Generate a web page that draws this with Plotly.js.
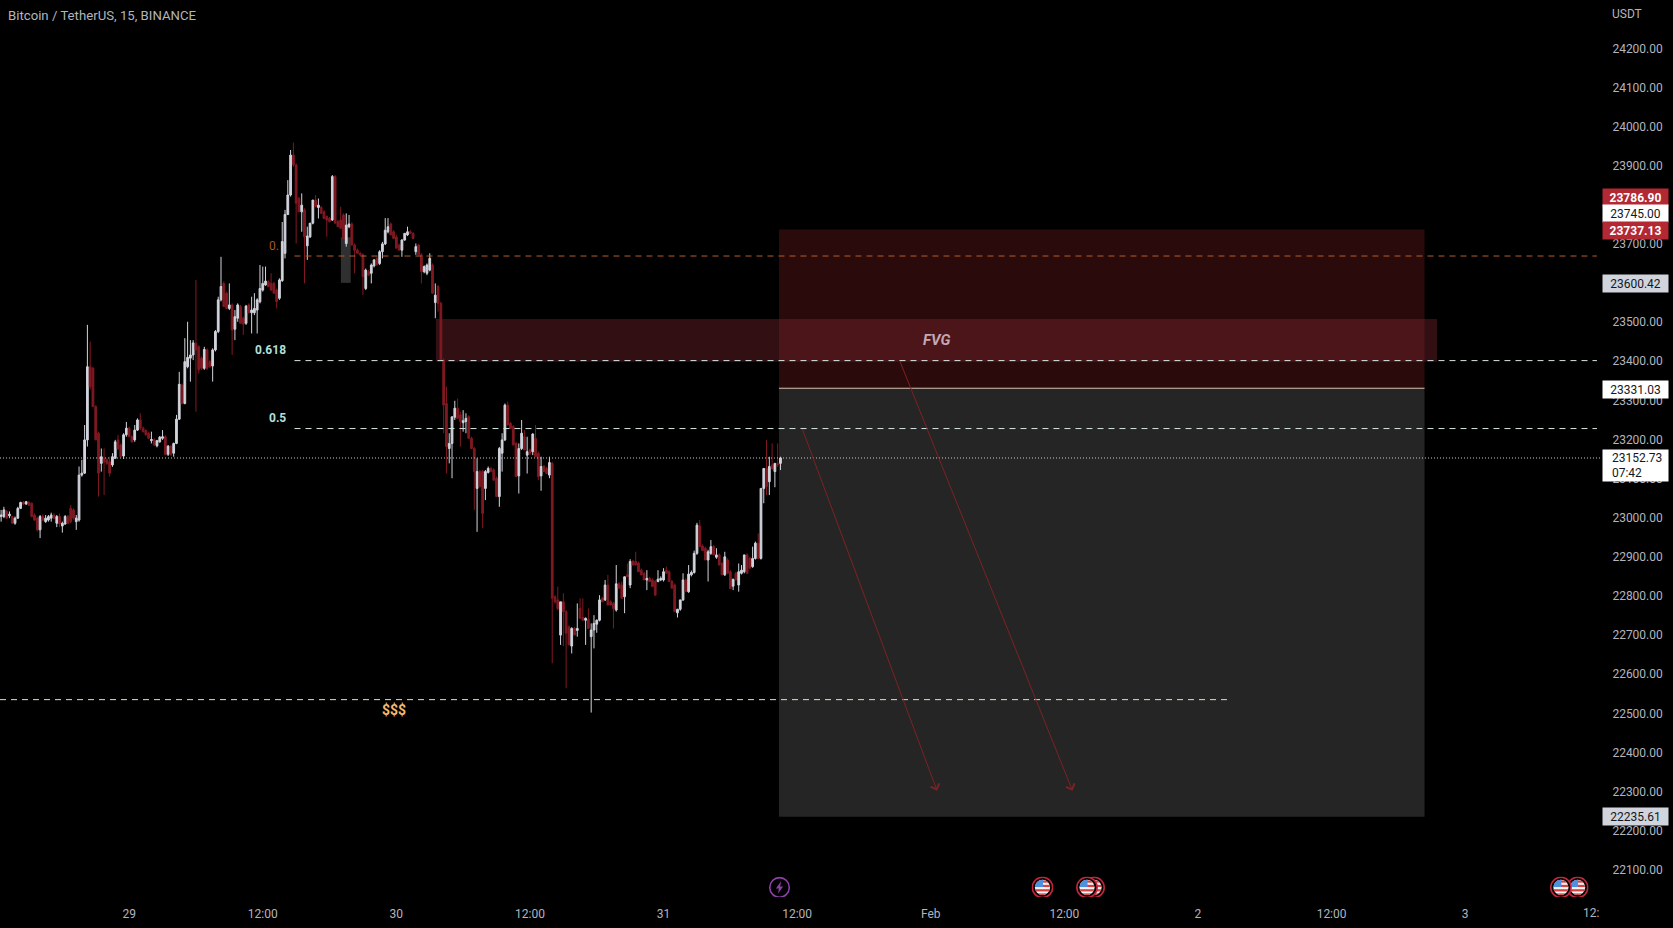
<!DOCTYPE html>
<html>
<head>
<meta charset="utf-8">
<script src="https://cdn.plot.ly/plotly-3.0.1.min.js"></script>
<style>html,body{margin:0;padding:0;background:#000;overflow:hidden}</style>
</head>
<body>
<div id="chart" style="width:1673px;height:928px"></div>
<script>
const opens=[23003,23003,23016,23005,23003,22986,22999,23024,23039,23035,
23039,23037,23007,22999,22969,23003,22990,22994,22999,23007,
22986,23003,22979,22984,23003,23024,23020,22990,22994,23109,
23114,23199,23386,23382,23284,23216,23139,23152,23148,23143,
23135,23152,23199,23186,23158,23212,23229,23207,23199,23224,
23250,23229,23223,23216,23197,23199,23184,23194,23203,23207,
23162,23182,23165,23190,23252,23339,23292,23386,23408,23416,
23446,23437,23408,23382,23429,23399,23388,23429,23476,23557,
23599,23574,23535,23544,23482,23510,23540,23510,23497,23544,
23524,23524,23531,23552,23582,23595,23603,23599,23599,23582,
23561,23606,23676,23775,23825,23927,23902,23816,23782,23787,
23695,23718,23753,23812,23793,23793,23782,23770,23765,23761,
23872,23757,23761,23774,23701,23744,23751,23697,23684,23676,
23672,23586,23629,23625,23644,23663,23650,23680,23700,23731,
23751,23731,23718,23697,23684,23710,23723,23731,23727,23680,
23697,23672,23629,23625,23633,23646,23550,23591,23548,23403,
23292,23177,23190,23257,23280,23263,23243,23246,23258,23203,
23177,23075,23118,23118,23075,23116,23126,23122,23101,23054,
23165,23199,23288,23241,23233,23190,23107,23177,23207,23160,
23173,23169,23203,23165,23107,23131,23126,23109,23139,22798,
22790,22700,22785,22760,22721,22672,22717,22712,22768,22745,
22738,22740,22696,22713,22728,22738,22794,22790,22828,22785,
22781,22764,22831,22828,22798,22854,22828,22888,22888,22884,
22866,22858,22841,22845,22841,22837,22837,22841,22841,22866,
22862,22837,22828,22757,22766,22790,22841,22811,22854,22860,
22909,22979,22928,22922,22892,22909,22926,22899,22905,22883,
22854,22892,22862,22825,22858,22828,22858,22862,22905,22896,
22875,22896,22935,22896,23075,23126,23092,23135,23118,23139,23139];
const highs=[23020,23028,23020,23016,23005,23003,23028,23041,23043,23043,
23043,23039,23011,23003,23007,23009,23007,23007,23013,23011,
23007,23011,22990,23007,23007,23033,23024,23007,23131,23148,
23237,23493,23450,23386,23288,23220,23177,23177,23152,23156,
23165,23199,23212,23190,23216,23245,23233,23211,23237,23254,
23267,23233,23226,23220,23220,23203,23199,23209,23224,23211,
23186,23186,23192,23263,23373,23343,23459,23501,23454,23454,
23608,23441,23412,23437,23433,23403,23433,23480,23565,23667,
23604,23578,23599,23548,23531,23548,23544,23514,23544,23548,
23565,23574,23561,23646,23642,23642,23607,23625,23603,23586,
23612,23756,23787,23863,23940,23959,23906,23820,23829,23791,
23744,23753,23812,23825,23816,23797,23786,23773,23769,23876,
23876,23761,23795,23778,23778,23774,23755,23701,23688,23680,
23676,23637,23633,23650,23661,23667,23684,23705,23766,23766,
23755,23735,23724,23701,23712,23727,23744,23735,23730,23701,
23700,23676,23645,23650,23676,23650,23599,23595,23552,23407,
23335,23216,23258,23299,23305,23271,23275,23267,23262,23207,
23181,23152,23122,23122,23122,23131,23130,23126,23105,23181,
23216,23292,23297,23245,23237,23194,23190,23250,23224,23207,
23177,23216,23237,23169,23156,23135,23130,23156,23143,22802,
22824,22785,22807,22764,22725,22720,22721,22781,22794,22794,
22745,22768,22730,22751,22740,22802,22798,22841,22854,22789,
22785,22879,22835,22837,22850,22883,22894,22892,22913,22888,
22870,22862,22866,22849,22845,22841,22866,22850,22871,22875,
22866,22841,22832,22767,22790,22858,22845,22879,22865,22916,
22987,22994,22932,22926,22918,22943,22930,22922,22909,22887,
22913,22896,22866,22843,22862,22883,22879,22905,22909,22900,
22926,22939,22960,23075,23126,23199,23156,23190,23139,23190,23156];
const lows=[22990,22999,22997,22999,22984,22982,22997,23022,23033,23033,
23030,23001,22992,22965,22948,22992,22987,22990,22990,22997,
22976,22976,22962,22982,22984,22986,22995,22969,22990,23105,
23112,23182,23327,23284,23199,23054,23118,23058,23135,23105,
23130,23150,23173,23156,23150,23207,23207,23192,23194,23222,
23224,23218,23210,23201,23190,23184,23180,23192,23199,23160,
23158,23158,23156,23188,23250,23290,23290,23382,23348,23403,
23271,23369,23378,23378,23378,23384,23348,23425,23472,23553,
23540,23535,23531,23416,23454,23501,23497,23467,23493,23523,
23471,23518,23471,23548,23578,23593,23589,23580,23574,23535,
23557,23603,23663,23774,23821,23897,23701,23782,23731,23599,
23659,23715,23750,23795,23765,23778,23765,23718,23755,23759,
23753,23744,23738,23714,23693,23740,23697,23625,23676,23670,
23569,23582,23620,23599,23640,23646,23646,23663,23697,23727,
23723,23714,23689,23684,23667,23708,23720,23725,23714,23672,
23672,23599,23625,23620,23630,23574,23510,23527,23403,23216,
23113,23139,23101,23250,23254,23182,23220,23216,23203,23177,
23020,22964,23079,22973,23045,23113,23118,23096,23054,23028,
23118,23196,23237,23228,23186,23105,23062,23173,23173,23113,
23160,23160,23156,23096,23069,23118,23113,23101,22628,22780,
22763,22675,22672,22564,22675,22653,22700,22696,22743,22738,
22675,22717,22502,22666,22706,22735,22785,22787,22777,22777,
22717,22760,22820,22794,22756,22849,22820,22879,22879,22862,
22854,22841,22815,22837,22824,22802,22835,22838,22837,22858,
22837,22820,22760,22745,22762,22787,22811,22808,22850,22857,
22905,22926,22916,22892,22837,22905,22905,22895,22879,22854,
22851,22858,22819,22815,22841,22811,22855,22858,22858,22871,
22872,22893,22896,22893,23037,23058,23058,23122,23078,23130,23122];
const closes=[23007,23020,22999,23009,22986,22999,23024,23039,23035,23041,
23032,23003,22994,22969,23003,22994,22999,23003,23007,22999,
23003,22984,22986,23003,22986,22990,22999,22999,23109,23114,
23199,23386,23335,23284,23199,23114,23156,23143,23139,23114,
23156,23194,23177,23156,23212,23229,23207,23194,23224,23250,
23229,23220,23212,23203,23200,23186,23197,23206,23207,23162,
23183,23162,23190,23252,23341,23292,23399,23410,23416,23447,
23429,23378,23382,23430,23382,23386,23429,23476,23557,23591,
23540,23535,23544,23480,23514,23544,23497,23495,23541,23524,
23531,23535,23557,23586,23599,23605,23591,23582,23574,23552,
23608,23706,23775,23825,23927,23902,23804,23782,23799,23718,
23720,23753,23812,23795,23799,23778,23765,23761,23757,23872,
23753,23744,23740,23714,23748,23751,23697,23684,23676,23672,
23616,23633,23620,23646,23659,23646,23680,23700,23735,23744,
23723,23714,23689,23684,23710,23727,23731,23727,23714,23693,
23672,23629,23642,23646,23663,23574,23569,23548,23403,23288,
23182,23190,23258,23280,23254,23246,23248,23254,23203,23177,
23118,23118,23079,23011,23118,23126,23118,23096,23054,23177,
23199,23288,23237,23228,23186,23105,23177,23216,23173,23169,
23165,23214,23156,23105,23131,23118,23113,23141,22794,22785,
22768,22785,22760,22705,22675,22717,22700,22717,22743,22738,
22743,22717,22713,22730,22738,22790,22785,22828,22777,22777,
22768,22831,22820,22794,22849,22849,22888,22879,22879,22862,
22854,22841,22845,22837,22824,22802,22843,22845,22862,22858,
22837,22820,22760,22766,22790,22841,22811,22856,22860,22909,
22981,22926,22916,22892,22913,22926,22905,22905,22879,22854,
22900,22858,22819,22843,22841,22862,22866,22905,22858,22871,
22896,22935,22896,23075,23126,23079,23131,23126,23139,23135,23153];

const firstCandle = Date.UTC(2023,0,28,12,30);
const times = opens.map((_,i)=> new Date(firstCandle + i*15*60000).toISOString());

const xTickVals=["2023-01-29 00:00","2023-01-29 12:00","2023-01-30 00:00","2023-01-30 12:00","2023-01-31 00:00","2023-01-31 12:00","2023-02-01 00:00","2023-02-01 12:00","2023-02-02 00:00","2023-02-02 12:00","2023-02-03 00:00"];
const xTickText=["29","12:00","30","12:00","31","12:00","Feb","12:00","2","12:00","3"];
// 23800 sits wholly behind the 23786.90 tag in the reference, so it is not drawn
const yTickVals=[22100,22200,22300,22400,22500,22600,22700,22800,22900,23000,23100,23200,23300,23400,23500,23600,23700,23900,24000,24100,24200];

const priceTags=[
 {p:23786.90,py:197,bg:"#b22833",fg:"#ffffff",bold:true},
 {p:23745.00,py:213.5,bg:"#ffffff",fg:"#131722"},
 {p:23737.13,py:230.5,bg:"#b22833",fg:"#ffffff",bold:true},
 {p:23600.42,py:283.5,bg:"#d1d4dc",fg:"#131722"},
 {p:23331.03,py:389,bg:"#ffffff",fg:"#131722"},
 {p:22235.61,py:816.5,bg:"#d1d4dc",fg:"#131722"}
];

const T="Roboto, sans-serif", W=1673, H=928, RIGHT=1601, BOTTOM=897;
const axisGrey="#b2b5be";

function hline(y,x0,x1,color,dash){return {type:"line",xref:"x",yref:"y",x0:x0,x1:x1,y0:y,y1:y,layer:"above",line:{color:color,width:1,dash:dash}};}
function box(x0,x1,y0,y1,fill,layer){return {type:"rect",xref:"x",yref:"y",x0:x0,x1:x1,y0:y0,y1:y1,layer:layer||"below",fillcolor:fill,line:{width:0}};}

const shapes=[
 box("2023-01-31 10:22","2023-02-02 20:21",23331.03,23737.13,"#2a0a0b"),
 box("2023-01-31 10:22","2023-02-02 20:21",22235.61,23331.03,"#252525"),
 box("2023-01-29 19:01","2023-01-29 19:54",23600.42,23717,"#303030"),
 box("2023-01-30 03:33","2023-02-02 21:28",23399,23508,"rgba(129,40,50,0.38)"),
 hline(23331.03,"2023-01-31 10:22","2023-02-02 20:21","#d9c7b2","solid"),
 hline(23669,"2023-01-29 14:51","2023-02-03 11:50","#b5602a","6px,5px"),
 hline(23401.7,"2023-01-29 14:51","2023-02-03 11:50","#d5e6e4","6px,5px"),
 hline(23228,"2023-01-29 14:51","2023-02-03 11:50","#d5e6e4","6px,5px"),
 hline(22535,"2023-01-28 12:24","2023-02-02 02:36","#f0dcae","6px,5px"),
 hline(23152.73,"2023-01-28 12:24","2023-02-03 12:12","#c9c9c9","1px,2px")
];

// paper coordinates span the plot area, so screen pixels are divided by RIGHT and BOTTOM
function txt(px,py,text,color,size,anchor){return {xref:"paper",yref:"paper",x:px/RIGHT,y:1-py/BOTTOM,xanchor:anchor||"left",yanchor:"middle",showarrow:false,text:text,font:{family:T,size:size||12,color:color}};}
function arrow(xs,ys,xe,ye){return {xref:"x",yref:"y",axref:"x",ayref:"y",x:xe,y:ye,ax:xs,ay:ys,text:"",showarrow:true,arrowcolor:"#7d2224",arrowwidth:1,arrowhead:4,arrowsize:1.8,standoff:0};}

const annotations=[
 txt(6,16,"Bitcoin / TetherUS, 15, BINANCE","#b2b5be",13.2),
 txt(1610,14,"USDT",axisGrey,12),
 txt(288,350,"<b>0.618</b>","#b2dfdb",12,"right"),
 txt(288,418,"<b>0.5</b>","#b2dfdb",12,"right"),
 txt(267,246,"0.","#a8571e",12),
 txt(380,710,"<b>$$$</b>","#f5b871",14),
 txt(936,340,"<b><i>FVG</i></b>","#c5a8b4",15,"center"),
 arrow("2023-01-31 12:26",23229,"2023-02-01 00:34",22302),
 arrow("2023-01-31 21:12",23402,"2023-02-01 12:44",22302)
];
annotations.push({xref:"paper",yref:"paper",x:1,y:1-913/BOTTOM,xanchor:"right",yanchor:"middle",showarrow:false,text:"12:",font:{family:T,size:12,color:axisGrey}});
priceTags.forEach(t=>{
 annotations.push({xref:"paper",yref:"paper",x:1602/RIGHT,y:1-t.py/BOTTOM,xanchor:"left",yanchor:"middle",showarrow:false,
  width:65,height:17,bgcolor:t.bg,borderpad:0,align:"center",
  text:(t.bold?"<b>":"")+t.p.toFixed(2)+(t.bold?"</b>":""),font:{family:T,size:12,color:t.fg}});
});
annotations.push({xref:"paper",yref:"paper",x:1602/RIGHT,y:1-465.5/BOTTOM,xanchor:"left",yanchor:"middle",showarrow:false,
 width:65,height:31,bgcolor:"#ffffff",borderpad:0,align:"left",
 text:"&nbsp;&nbsp;&nbsp;23152.73<br>&nbsp;&nbsp;&nbsp;07:42",font:{family:T,size:12,color:"#131722"}});

const flagSvg='<svg xmlns="http://www.w3.org/2000/svg" width="44" height="44" viewBox="0 0 22 22">'+
 '<defs><clipPath id="c"><circle cx="11" cy="11" r="7.6"/></clipPath></defs>'+
 '<circle cx="11" cy="11" r="10.2" fill="#000" stroke="#c4253c" stroke-width="1.6"/>'+
 '<g clip-path="url(#c)"><rect width="22" height="22" fill="#f2f2f2"/>'+
 '<rect y="4" width="22" height="2.2" fill="#d8413f"/><rect y="8.4" width="22" height="2.2" fill="#d8413f"/><rect y="12.8" width="22" height="2.2" fill="#d8413f"/><rect y="17" width="22" height="2.4" fill="#d8413f"/>'+
 '<rect width="11.5" height="10.6" fill="#4f8fe0"/></g></svg>';
const boltSvg='<svg xmlns="http://www.w3.org/2000/svg" width="44" height="44" viewBox="0 0 22 22">'+
 '<circle cx="11" cy="11" r="9.8" fill="#000" stroke="#8e3fa8" stroke-width="1.6"/>'+
 '<path d="M12.6 4.6 L7.4 12 H10.4 L9.4 17.4 L14.6 10 H11.6 Z" fill="#8e3fa8"/></svg>';
const uri=s=>"data:image/svg+xml;charset=utf-8,"+encodeURIComponent(s);
const ICON_MS=22/11.133*3600000;
function icon(x,src){return {source:uri(src),xref:"x",yref:"y",x:x,y:22055,sizex:ICON_MS,sizey:56,xanchor:"center",yanchor:"middle",sizing:"contain",layer:"above"};}
const images=[
 icon("2023-01-31 10:25",boltSvg),
 icon("2023-02-01 10:02",flagSvg),
 icon("2023-02-01 14:40",flagSvg),
 icon("2023-02-01 14:02",flagSvg),
 icon("2023-02-03 10:06",flagSvg),
 icon("2023-02-03 08:36",flagSvg)
];

const trace={type:"candlestick",x:times,open:opens,high:highs,low:lows,close:closes,
 whiskerwidth:0,hoverinfo:"skip",showlegend:false,
 increasing:{line:{color:"#d1d4dc",width:1},fillcolor:"#d1d4dc"},
 decreasing:{line:{color:"#801922",width:1},fillcolor:"#801922"}};

const layout={width:W,height:H,autosize:false,showlegend:false,paper_bgcolor:"#000",plot_bgcolor:"#000",boxgap:0.1,
 margin:{l:0,r:W-RIGHT,t:0,b:H-BOTTOM,pad:0},font:{family:T,size:12,color:axisGrey},
 xaxis:{type:"date",range:["2023-01-28 12:24","2023-02-03 12:12"],tickmode:"array",tickvals:xTickVals,ticktext:xTickText,tickangle:0,
  showgrid:false,zeroline:false,showline:false,ticks:"outside",ticklen:6,tickcolor:"rgba(0,0,0,0)",tickfont:{family:T,size:12,color:axisGrey},rangeslider:{visible:false},fixedrange:true},
 yaxis:{side:"right",range:[22030.5,24323.5],tickmode:"array",tickvals:yTickVals,tickformat:".2f",
  showgrid:false,zeroline:false,showline:false,ticks:"outside",ticklen:8,tickcolor:"rgba(0,0,0,0)",tickfont:{family:T,size:12,color:axisGrey},fixedrange:true},
 shapes:shapes,annotations:annotations,images:images};

Plotly.newPlot("chart",[trace],layout,{displayModeBar:false,staticPlot:true});
</script>
</body>
</html>
